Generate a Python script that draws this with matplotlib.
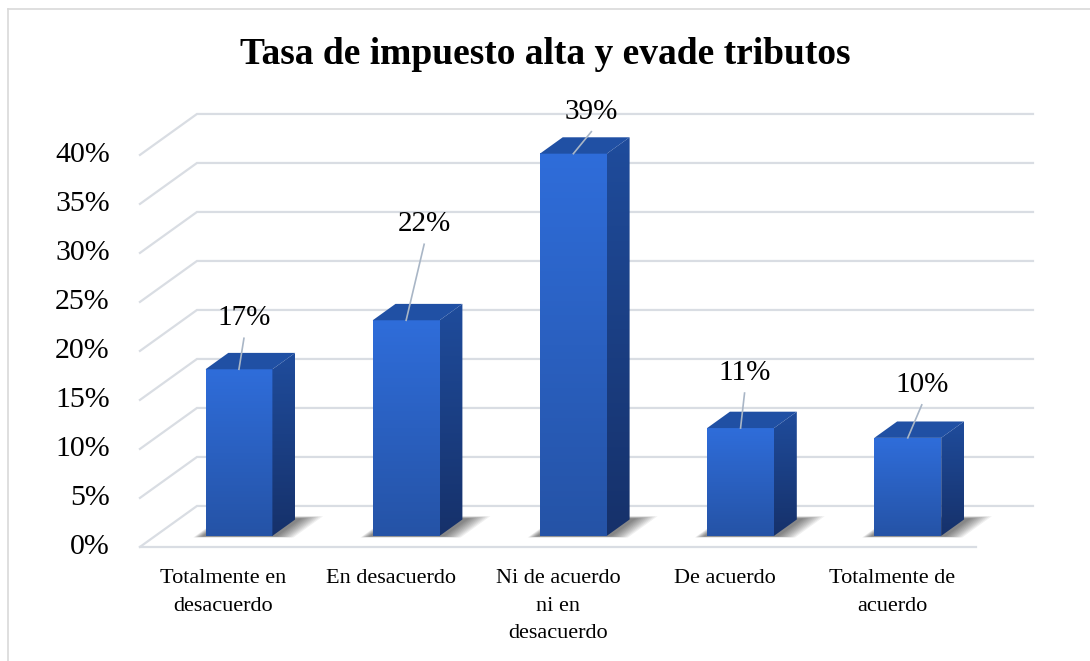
import numpy as np
import matplotlib.pyplot as plt
from matplotlib.patches import Polygon
from matplotlib.lines import Line2D
from matplotlib.colors import LinearSegmentedColormap

categories = ["Totalmente en\ndesacuerdo", "En desacuerdo", "Ni de acuerdo\nni en\ndesacuerdo",
              "De acuerdo", "Totalmente de\nacuerdo"]
values = [17, 22, 39, 11, 10]
ticks = [0, 5, 10, 15, 20, 25, 30, 35, 40]
tick_labels = [f"{t}%" for t in ticks]
title = "Tasa de impuesto alta y evade tributos"

# manual label nudges (pixels) as placed in the original chart
label_offsets = [(5, 51), (18, 96), (18, 42), (4, 55), (14, 53)]

plt.rcParams['font.family'] = ['Liberation Serif', 'DejaVu Serif']

# pseudo-3D projection: depth d = 0 at the front, 1 at the back wall
DX, DY = 0.341, 4.18
PX_X, PX_Y = 167.2, 9.8        # pixels per category / per percent
D_FRONT, D_BACK = 0.27, 0.67   # bar depth range
HALF_W = 0.2


def proj(x, y, d):
    return x + (d - 1) * DX, y + (d - 1) * DY


fig = plt.figure(figsize=(10.9, 6.61), dpi=100)
ax = fig.add_axes([0, 0, 1, 1])
ax.axis("off")

n = len(categories)
xs = np.arange(n)
grid_col = "#D9DDE3"

# back wall gridlines with the slanted left side wall
for t, lab in zip(ticks, tick_labels):
    p0 = proj(-0.5, t, 0)
    p1 = proj(-0.5, t, 1)
    p2 = proj(n - 0.5, t, 1)
    ax.plot([p0[0], p1[0], p2[0]], [p0[1], p1[1], p2[1]], color=grid_col, lw=1.6,
            solid_joinstyle="miter", zorder=1)
    ax.text(p0[0] - 0.18, p0[1], lab, ha="right", va="center", fontsize=21.5, color="black")

# front floor edge
f0 = proj(-0.5, 0, 0)
f1 = proj(n - 0.5, 0, 0)
ax.plot([f0[0], f1[0]], [f0[1], f1[1]], color=grid_col, lw=1.6, zorder=1)

front_cmap = LinearSegmentedColormap.from_list("front", ["#2553A6", "#2F6DDA"])
side_cmap = LinearSegmentedColormap.from_list("side", ["#16316A", "#1F4C9C"])
grad = np.linspace(0, 1, 256).reshape(-1, 1)

for i, (x, v) in enumerate(zip(xs, values)):
    xl, xr = x - HALF_W, x + HALF_W

    # soft shadow on the floor
    for k in range(10):
        s = k / 10
        sh = [proj(xl - 0.06 + 0.05 * s, 0, D_FRONT - 0.04 + 0.03 * s),
              proj(xr + 0.14 - 0.12 * s, 0, D_FRONT - 0.04 + 0.03 * s),
              proj(xr + 0.14 - 0.12 * s, 0, D_BACK + 0.08 - 0.06 * s),
              proj(xl - 0.06 + 0.05 * s, 0, D_BACK + 0.08 - 0.06 * s)]
        ax.add_patch(Polygon(sh, closed=True, facecolor="#000000", edgecolor="none",
                             alpha=0.06, zorder=2))

    # front face
    fl_b = proj(xl, 0, D_FRONT)
    fr_t = proj(xr, v, D_FRONT)
    ax.imshow(grad, extent=(fl_b[0], fr_t[0], fl_b[1], fr_t[1]), origin="lower",
              cmap=front_cmap, aspect="auto", zorder=4)

    # side face
    side = [proj(xr, 0, D_FRONT), proj(xr, 0, D_BACK), proj(xr, v, D_BACK), proj(xr, v, D_FRONT)]
    side_poly = Polygon(side, closed=True, facecolor="none", edgecolor="none")
    ax.add_patch(side_poly)
    sx = [p[0] for p in side]
    sy = [p[1] for p in side]
    im = ax.imshow(grad, extent=(min(sx), max(sx), min(sy), max(sy)), origin="lower",
                   cmap=side_cmap, aspect="auto", zorder=4)
    im.set_clip_path(side_poly)

    # top face
    top = [proj(xl, v, D_FRONT), proj(xr, v, D_FRONT), proj(xr, v, D_BACK), proj(xl, v, D_BACK)]
    ax.add_patch(Polygon(top, closed=True, facecolor="#2050A4", edgecolor="none", zorder=5))

    # data label with leader line
    cx, cy = proj(x, v, D_FRONT)
    odx, ody = label_offsets[i]
    lx, ly = cx + odx / PX_X, cy + ody / PX_Y
    ax.plot([cx, lx], [cy, ly - 20 / PX_Y], color="#A9B6C6", lw=1.2, zorder=6)
    ax.text(lx, ly, f"{v}%", ha="center", va="center", fontsize=21, color="black", zorder=7)

    # category label
    bx, by = proj(x, 0, 0)
    ax.text(bx, by - 2.3, categories[i], ha="center", va="top", fontsize=16,
            linespacing=1.6, color="black")

ax.set_xlim(-1.678, 4.841)
ax.set_ylim(-15.82, 51.63)

fig.text(0.5, 1 - 54 / 661, title, ha="center", va="center", fontsize=27, fontweight="bold")

# outer chart border (left and top edges visible)
fig.add_artist(Line2D([8 / 1090, 8 / 1090], [0, 1 - 9 / 661], color="#D9D9D9", lw=1.2))
fig.add_artist(Line2D([8 / 1090, 1], [1 - 9 / 661, 1 - 9 / 661], color="#D9D9D9", lw=1.2))

fig.savefig("out.png", dpi=100)
